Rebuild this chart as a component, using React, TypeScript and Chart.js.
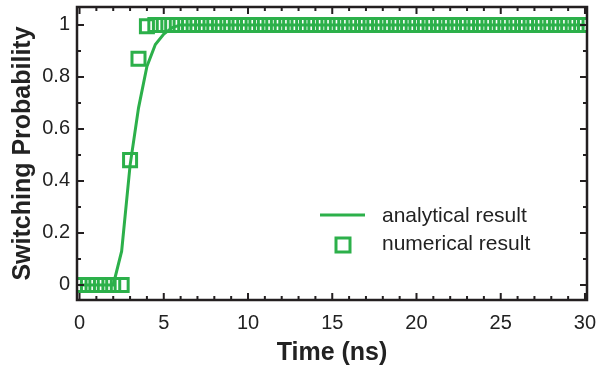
import React, { useEffect, useRef } from 'react';
import { Chart, registerables } from 'chart.js';

Chart.register(...registerables);

const timeNumerical = [
  0, 0.5, 1, 1.5, 2, 2.5, 3, 3.5, 4, 4.5, 5, 5.5, 6, 6.5, 7, 7.5, 8, 8.5, 9, 9.5,
  10, 10.5, 11, 11.5, 12, 12.5, 13, 13.5, 14, 14.5, 15, 15.5, 16, 16.5, 17, 17.5,
  18, 18.5, 19, 19.5, 20, 20.5, 21, 21.5, 22, 22.5, 23, 23.5, 24, 24.5, 25, 25.5,
  26, 26.5, 27, 27.5, 28, 28.5, 29, 29.5, 30,
];
const probNumerical = [
  0, 0, 0, 0, 0, 0, 0.48, 0.87, 0.995, 1, 1, 1, 1, 1, 1, 1, 1, 1, 1, 1,
  1, 1, 1, 1, 1, 1, 1, 1, 1, 1, 1, 1, 1, 1, 1, 1,
  1, 1, 1, 1, 1, 1, 1, 1, 1, 1, 1, 1, 1, 1, 1, 1,
  1, 1, 1, 1, 1, 1, 1, 1, 1,
];

const timeAnalytical = [0, 0.5, 1, 1.5, 2, 2.5, 3, 3.5, 4, 4.5, 5, 5.5, 6, 7, 8, 10, 15, 20, 25, 30];
const probAnalytical = [0, 0, 0, 0, 0, 0.13, 0.46, 0.68, 0.84, 0.925, 0.965, 0.99, 1, 1, 1, 1, 1, 1, 1, 1];

const xTicks = [0, 5, 10, 15, 20, 25, 30];
const xMinorTicks = [1, 2, 3, 4, 6, 7, 8, 9, 11, 12, 13, 14, 16, 17, 18, 19, 21, 22, 23, 24, 26, 27, 28, 29];
const yTicks = [0, 0.2, 0.4, 0.6, 0.8, 1];
const yMinorTicks = [0.1, 0.3, 0.5, 0.7, 0.9];
const legendLabels = ['analytical result', 'numerical result'];

const GREEN = '#2cb04a';
const INK = '#231f20';
const FONT = "'Liberation Sans', Arial, sans-serif";

const framePlugin = {
  id: 'frame',
  afterDraw(chart: any) {
    const { ctx, chartArea, scales } = chart;
    const { left, right, top, bottom } = chartArea;
    const x = scales.x;
    const y = scales.y;
    ctx.save();
    ctx.strokeStyle = INK;
    ctx.lineWidth = 2;
    ctx.beginPath();
    const major = 7;
    const minor = 4;
    xTicks.forEach((v) => {
      const p = x.getPixelForValue(v);
      ctx.moveTo(p, bottom); ctx.lineTo(p, bottom - major);
      ctx.moveTo(p, top); ctx.lineTo(p, top + major);
    });
    xMinorTicks.forEach((v) => {
      const p = x.getPixelForValue(v);
      ctx.moveTo(p, bottom); ctx.lineTo(p, bottom - minor);
      ctx.moveTo(p, top); ctx.lineTo(p, top + minor);
    });
    yTicks.forEach((v) => {
      const p = y.getPixelForValue(v);
      ctx.moveTo(left, p); ctx.lineTo(left + major, p);
      ctx.moveTo(right, p); ctx.lineTo(right - major, p);
    });
    yMinorTicks.forEach((v) => {
      const p = y.getPixelForValue(v);
      ctx.moveTo(left, p); ctx.lineTo(left + minor, p);
      ctx.moveTo(right, p); ctx.lineTo(right - minor, p);
    });
    ctx.stroke();
    ctx.lineWidth = 2.5;
    ctx.strokeRect(left, top, right - left, bottom - top);

    // legend
    ctx.strokeStyle = GREEN;
    ctx.lineWidth = 3;
    ctx.beginPath();
    ctx.moveTo(320, 215);
    ctx.lineTo(365, 215);
    ctx.stroke();
    ctx.strokeRect(336, 238, 14, 14);
    ctx.fillStyle = '#222';
    ctx.font = `21px ${FONT}`;
    ctx.textAlign = 'left';
    ctx.textBaseline = 'middle';
    ctx.fillText(legendLabels[0], 382, 216);
    ctx.fillText(legendLabels[1], 382, 244);
    ctx.restore();
  },
};

const zeroPad = (s: any) => {
  s.paddingTop = 0;
  s.paddingBottom = 0;
  s.paddingLeft = 0;
  s.paddingRight = 0;
};

export default function App() {
  const ref = useRef<HTMLCanvasElement>(null);
  useEffect(() => {
    if (!ref.current) return;
    const chart = new Chart(ref.current, {
      type: 'line',
      data: {
        datasets: [
          {
            label: legendLabels[1],
            data: timeNumerical.map((t, i) => ({ x: t, y: probNumerical[i] })),
            showLine: false,
            pointStyle: 'rect',
            pointRadius: 9.2,
            pointBorderWidth: 3,
            pointBorderColor: GREEN,
            pointBackgroundColor: 'rgba(0,0,0,0)',
            borderColor: GREEN,
          },
          {
            label: legendLabels[0],
            data: timeAnalytical.map((t, i) => ({ x: t, y: probAnalytical[i] })),
            borderColor: GREEN,
            borderWidth: 3,
            pointRadius: 0,
            tension: 0,
            fill: false,
          },
        ],
      },
      options: {
        responsive: false,
        animation: false,
        layout: { autoPadding: false, padding: { left: 0, right: 10, top: 7, bottom: 0 } },
        plugins: { legend: { display: false }, tooltip: { enabled: false } },
        scales: {
          x: {
            type: 'linear',
            min: -0.15,
            max: 30.12,
            grid: { display: false, drawTicks: false },
            border: { display: false },
            afterBuildTicks: (s: any) => { s.ticks = xTicks.map((v) => ({ value: v })); },
            afterFit: (s: any) => { s.height = 71; zeroPad(s); },
            ticks: {
              font: { size: 20, family: FONT },
              color: '#222',
              padding: 11,
              maxRotation: 0,
              autoSkip: false,
            },
            title: {
              display: true,
              text: 'Time (ns)',
              font: { size: 25, weight: 'bold', family: FONT },
              color: '#222',
              padding: { top: 0, bottom: 3 },
            },
          },
          y: {
            type: 'linear',
            min: -0.058,
            max: 1.069,
            grid: { display: false, drawTicks: false },
            border: { display: false },
            afterBuildTicks: (s: any) => { s.ticks = yTicks.map((v) => ({ value: v })); },
            afterFit: (s: any) => { s.width = 77; zeroPad(s); },
            ticks: {
              font: { size: 20, family: FONT },
              color: '#222',
              padding: 7,
              autoSkip: false,
              callback: (v: any) => String(Math.round(Number(v) * 10) / 10),
            },
            title: {
              display: true,
              text: 'Switching Probability',
              font: { size: 25, weight: 'bold', family: FONT },
              color: '#222',
              padding: { top: 8, bottom: 0 },
            },
          },
        },
      },
      plugins: [framePlugin],
    } as any);
    return () => chart.destroy();
  }, []);
  return (
    <div style={{ position: 'fixed', left: 0, top: 0, width: 597, height: 371, background: '#fff' }}>
      <canvas ref={ref} width={597} height={371} style={{ display: 'block' }} />
    </div>
  );
}
